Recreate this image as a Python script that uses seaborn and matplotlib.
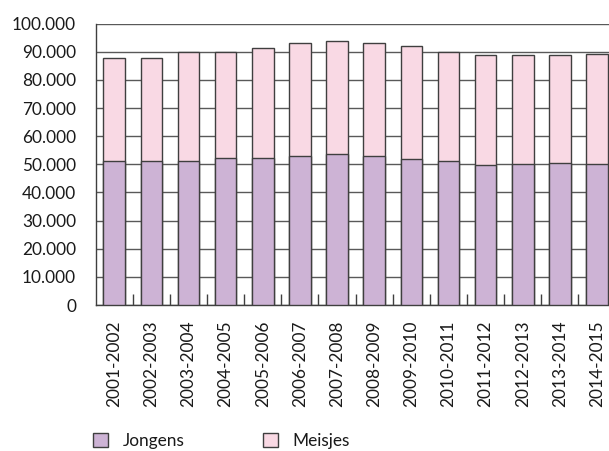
import numpy as np
import pandas as pd
import seaborn as sns
import matplotlib.pyplot as plt
from matplotlib.patches import Patch
from matplotlib.ticker import FuncFormatter, FixedLocator

# values
schooljaren = ['2001-2002', '2002-2003', '2003-2004', '2004-2005', '2005-2006',
               '2006-2007', '2007-2008', '2008-2009', '2009-2010', '2010-2011',
               '2011-2012', '2012-2013', '2013-2014', '2014-2015']
jongens = [51100, 51100, 51100, 52100, 52100, 53000, 53700,
           53000, 52000, 51200, 49800, 50300, 50500, 50300]
meisjes = [36600, 36600, 38800, 37800, 39100, 40000, 40000,
           40000, 40000, 38700, 39000, 38500, 38300, 39000]
y_ticks = [0, 10000, 20000, 30000, 40000, 50000, 60000, 70000, 80000, 90000, 100000]

kleur_jongens = '#CDB3D5'
kleur_meisjes = '#F9D9E4'
rand = '#3f3f3f'


def main():
    sns.set_theme(style='white')
    plt.rcParams['font.family'] = ['Lato', 'DejaVu Sans']

    df = pd.DataFrame({'jaar': schooljaren, 'Jongens': jongens, 'Meisjes': meisjes})
    df['Totaal'] = df['Jongens'] + df['Meisjes']

    W, H = 609, 451
    fig = plt.figure(figsize=(W / 100, H / 100), dpi=100)
    # plot area runs a bit past the right edge of the picture, like the original
    ax = fig.add_axes([95.6 / W, 1 - 305 / H, 520 / W, (305 - 23.7) / H])

    # stacked bars: total first (pink), boys on top of it (purple)
    sns.barplot(data=df, x='jaar', y='Totaal', color=kleur_meisjes, width=0.58,
                edgecolor=rand, linewidth=1.0, saturation=1, ax=ax, zorder=3)
    sns.barplot(data=df, x='jaar', y='Jongens', color=kleur_jongens, width=0.58,
                edgecolor=rand, linewidth=1.0, saturation=1, ax=ax, zorder=3)

    ax.set_ylim(0, 100000)
    ax.set_xlim(-0.5, len(schooljaren) - 0.5)
    ax.yaxis.set_major_locator(FixedLocator(y_ticks))
    ax.yaxis.set_major_formatter(FuncFormatter(lambda v, p: f'{int(v):,}'.replace(',', '.')))
    ax.grid(axis='y', color='#595959', linewidth=1.0, zorder=0)
    ax.set_axisbelow(True)

    for s in ['top', 'right']:
        ax.spines[s].set_visible(False)
    for s in ['left', 'bottom']:
        ax.spines[s].set_color(rand)
        ax.spines[s].set_linewidth(1.0)

    ax.set_xlabel('')
    ax.set_ylabel('')
    ax.tick_params(axis='y', length=0, pad=14, labelsize=12.4, labelcolor='#1a1a1a')
    ax.tick_params(axis='x', which='major', length=0, pad=11.3, labelsize=12.4,
                   labelcolor='#1a1a1a', labelrotation=90)
    # small inward ticks between the categories
    ax.set_xticks(np.arange(0.5, len(schooljaren) - 0.5, 1), minor=True)
    ax.tick_params(axis='x', which='minor', direction='in', length=7.9, width=1.0,
                   color=rand, bottom=True)

    handles = [Patch(facecolor=kleur_jongens, edgecolor=rand, linewidth=1.0),
               Patch(facecolor=kleur_meisjes, edgecolor=rand, linewidth=1.0)]
    fig.legend(handles, ['Jongens', 'Meisjes'], ncol=2, loc='center left',
               bbox_to_anchor=(93.3 / W, 1 - 441 / H), frameon=False,
               fontsize=12.4, handlelength=0.87, handleheight=0.87,
               handletextpad=0.87, columnspacing=4.5, borderpad=0, borderaxespad=0,
               labelcolor='#1a1a1a')

    fig.savefig('out.png', dpi=100)


if __name__ == '__main__':
    main()
